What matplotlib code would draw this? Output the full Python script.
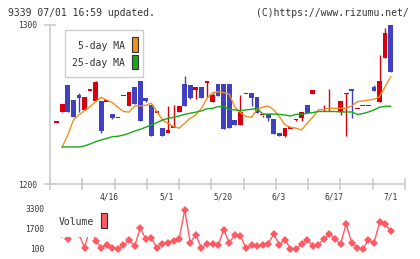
import numpy as np
import matplotlib
matplotlib.use("Agg")
import matplotlib.pyplot as plt
from matplotlib import transforms
from matplotlib.patches import Rectangle

# ---------------- data ----------------
opens = [1239, 1245, 1262, 1253, 1256, 1246.5, 1259, 1252.4, 1252, 1252.2,
         1244, 1241.9, 1255.8, 1249.3, 1261, 1264.8, 1254.1, 1249.7, 1245.3, 1235.4,
         1232.3, 1235.8, 1245, 1262.9, 1262.3, 1259.3, 1261, 1264.2, 1251.8, 1263,
         1262.9, 1262.9, 1240.3, 1237.3, 1257, 1257, 1254.5, 1243.6, 1243.8, 1240.9,
         1231.9, 1230.4, 1235.2, 1240.7, 1241.7, 1249.7, 1256.8, 1245.5, 1245.7, 1245.7,
         1245.7, 1245.5, 1257, 1259.6, 1247.6, 1249.5, 1249.5, 1261, 1251.8, 1279.4,
         1300]
closes = [1239, 1250, 1245.5, 1242, 1254, 1254.5, 1259, 1264.4, 1233.5, 1252.2,
          1241.7, 1241.9, 1255.8, 1257.9, 1250.5, 1239.8, 1252.4, 1230.4, 1245.3, 1230.4,
          1234, 1235.8, 1249, 1249.2, 1254.3, 1261, 1254.3, 1264.2, 1256, 1255.5,
          1234.8, 1235.4, 1237.3, 1245.5, 1257, 1254.3, 1244.9, 1243.6, 1241.7, 1231.6,
          1230.4, 1235.2, 1235.2, 1240.7, 1245.3, 1244.9, 1259.1, 1245.5, 1245.7, 1245.7,
          1245.7, 1252.2, 1257, 1258.7, 1247.6, 1249.5, 1249.5, 1258.7, 1264.8, 1295,
          1270.6]
highs = [1239, 1250, 1262, 1253, 1257.2, 1254.5, 1259.8, 1265, 1252, 1252.2,
         1244, 1241.9, 1255.8, 1257.9, 1261, 1264.8, 1254.1, 1249.7, 1245.3, 1235.4,
         1249.1, 1249.7, 1249, 1268, 1262.3, 1261, 1261, 1264.2, 1257.2, 1263,
         1262.9, 1262.9, 1240.3, 1256, 1257, 1257, 1254.5, 1243.6, 1243.8, 1240.9,
         1231.9, 1235.2, 1235.2, 1240.7, 1245.3, 1249.7, 1259.1, 1245.5, 1249.7, 1259.7,
         1245.7, 1252.2, 1257, 1259.6, 1247.6, 1249.5, 1249.5, 1262.3, 1281, 1298,
         1300]
lows = [1239, 1245, 1245.5, 1242, 1245.5, 1246.5, 1258.5, 1252.4, 1232, 1252.2,
        1240.7, 1241.9, 1255.8, 1249.3, 1250.5, 1239.8, 1251.6, 1230.4, 1245.3, 1230.4,
        1232.3, 1235.8, 1245, 1249.2, 1253.5, 1253.5, 1254.3, 1254.5, 1251.8, 1255.5,
        1234.8, 1235.4, 1237.3, 1237.3, 1257, 1249.1, 1244.9, 1242, 1239.8, 1231.6,
        1230.4, 1229.8, 1235.2, 1239.8, 1239.8, 1244.9, 1256.8, 1245.5, 1245.7, 1245.7,
        1245.7, 1243.4, 1230.4, 1241.7, 1247.6, 1249.5, 1249.5, 1258.7, 1251.8, 1279.4,
        1270.6]
ma5 = [np.nan, 1223.3, 1230.8, 1240.3, 1243.4, 1246.1, 1248.7, 1251.8, 1254.5, 1252.8,
       1251.2, 1248.3, 1245.6, 1245.2, 1249.1, 1249.1, 1249.5, 1250.8, 1245.6, 1240.3,
       1238.2, 1236.1, 1235.1, 1238.2, 1241.4, 1243.4, 1247.6, 1253.9, 1257.4, 1258,
       1257.4, 1256.6, 1248.3, 1244.9, 1242.4, 1242, 1247, 1248.3, 1249.1, 1246.6,
       1242.4, 1237.2, 1235.7, 1235.1, 1234, 1238.2, 1242, 1246.6, 1247, 1247.6,
       1247.6, 1247.6, 1247.6, 1249.1, 1251.8, 1252.2, 1252.8, 1253.3, 1254.9, 1261.2,
       1267.5]
ma25 = [np.nan, 1223.3, 1223.3, 1223.3, 1223.3, 1223.9, 1225.2, 1226.6, 1227.7, 1228.7,
        1229.8, 1230, 1230.8, 1231.9, 1233.3, 1234.4, 1235.7, 1237.2, 1238.6, 1240.3,
        1241.2, 1242, 1242.8, 1243.8, 1244.5, 1245.2, 1246, 1247.3, 1247.6, 1248.7,
        1248.7, 1247, 1246.6, 1246.1, 1246.6, 1247, 1247.6, 1244, 1244, 1244,
        1243.8, 1243.4, 1242.8, 1243.8, 1243.8, 1244.5, 1244.9, 1245.6, 1245.6, 1245.6,
        1245.6, 1245.3, 1245.3, 1245.3, 1243.8, 1244.3, 1245.3, 1246.6, 1248.3, 1248.9,
        1248.9]
volumes = [1500, 1300, 900, 1700, 1300, 180, 1800, 764, 180, 420,
           180, 100, 364, 844, 284, 1780, 900, 980, 150, 500,
           580, 764, 900, 3250, 580, 1244, 150, 500, 500, 364,
           1644, 580, 1220, 1164, 150, 420, 308, 420, 500, 1300,
           420, 844, 100, 80, 500, 844, 308, 420, 900, 1300,
           900, 500, 2100, 580, 180, 60, 820, 580, 2230, 2100,
           1564]
date_labels = ["4/16", "5/1", "5/20", "6/3", "6/17", "7/1"]
date_label_pos = [9.4, 19.8, 29.9, 39.9, 49.9, 59.9]
price_ticks = [1200, 1300]
volume_ticks = [100, 1700, 3300]

# ---------------- style ----------------
RED = "#d8000c"
BLUE = "#4040c0"
ORANGE = "#f0901e"
GREEN = "#18a818"
VOLC = "#ff5a64"
GRID = "#cccccc"
TXT = "#333333"
MONO = "DejaVu Sans Mono"

W, H = 420, 259
fig = plt.figure(figsize=(W / 100, H / 100), dpi=100)
fig.patch.set_facecolor("white")


def px_rect(l, t, r, b):
    return [l / W, 1 - b / H, (r - l) / W, (b - t) / H]


n = len(opens)
idx = np.arange(n)
xmin, xmax = -1.2, 62.57

ax = fig.add_axes(px_rect(50, 25, 405, 184))
ax.set_xlim(xmin, xmax)
ax.set_ylim(1200, 1300)

o = np.array(opens); c = np.array(closes)
hi = np.array(highs); lo = np.array(lows)
up = c >= o
cols = [RED if u else BLUE for u in up]
bottom = np.minimum(o, c)
height = np.abs(c - o)
mind = 0.95
small = height < mind
bottom = np.where(small, (o + c) / 2 - mind / 2, bottom)
height = np.where(small, mind, height)

ax.vlines(idx, lo, hi, colors=cols, linewidth=1.0, zorder=2)
ax.bar(idx, height, bottom=bottom, width=0.85, color=cols, linewidth=0, zorder=3)
ax.plot(idx, ma5, color=ORANGE, lw=1.0, zorder=4)
ax.plot(idx, ma25, color=GREEN, lw=1.0, zorder=4)

for s in ["top", "right"]:
    ax.spines[s].set_visible(False)
for s in ["left", "bottom"]:
    ax.spines[s].set_color(GRID)
    ax.spines[s].set_linewidth(1.2)
ax.set_xticks(np.linspace(xmin, xmax, 12))
ax.set_xticklabels([])
ax.set_yticks(price_ticks)
ax.set_yticklabels([str(v) for v in price_ticks], fontsize=5.7, family=MONO, color=TXT)
ax.tick_params(axis="both", direction="inout", length=8, width=1.2, color=GRID)
ax.tick_params(axis="y", pad=5)
ax.set_facecolor("none")

tr = transforms.blended_transform_factory(ax.transData, ax.transAxes)
for lab, pos in zip(date_labels, date_label_pos):
    ax.text(pos, (184 - 197.3) / 159, lab, transform=tr, ha="center", va="center",
            fontsize=5.7, family=MONO, color=TXT)

# volume panel
vax = fig.add_axes(px_rect(50, 205, 405, 255))
vax.set_xlim(xmin, xmax)
vax.set_ylim(-412, 3649)
vax.axis("off")
vax.plot(idx, volumes, color=VOLC, lw=1.0, marker="D", markersize=3.6,
         markeredgewidth=0, clip_on=False)

# overlay in pixel coordinates
ov = fig.add_axes([0, 0, 1, 1])
ov.set_xlim(0, W)
ov.set_ylim(H, 0)
ov.axis("off")

ov.text(8.3, 12.7, "9339 07/01 16:59 updated.", fontsize=7, family=MONO, color=TXT,
        ha="left", va="center")
ov.text(409, 12.7, "(C)https://www.rizumu.net/", fontsize=7, family=MONO, color=TXT,
        ha="right", va="center")

# price legend
ov.add_patch(Rectangle((65, 30), 78.3, 47.3, facecolor="white", edgecolor=GRID, lw=1.0, zorder=5))
ov.text(125, 46, "5-day MA", fontsize=7, family=MONO, color=TXT, ha="right", va="center", zorder=6)
ov.text(125, 63.3, "25-day MA", fontsize=7, family=MONO, color=TXT, ha="right", va="center", zorder=6)
ov.add_patch(Rectangle((131.7, 37.3), 6, 15, facecolor=ORANGE, edgecolor=TXT, lw=0.8, zorder=6))
ov.add_patch(Rectangle((131.7, 54.7), 6, 14.3, facecolor=GREEN, edgecolor=TXT, lw=0.8, zorder=6))

# volume legend
ov.add_patch(Rectangle((47, 206), 65, 31.3, facecolor="white", edgecolor="none", zorder=5))
ov.text(59, 222.3, "Volume", fontsize=7, family=MONO, color=TXT, ha="left", va="center", zorder=6)
ov.add_patch(Rectangle((101, 212.7), 6.3, 15.6, facecolor=VOLC, edgecolor=TXT, lw=0.8, zorder=6))

# volume axis labels
for v, y in zip(volume_ticks, [249.0, 229.3, 209.3]):
    ov.text(44, y, str(v), fontsize=5.7, family=MONO, color=TXT, ha="right", va="center",
            zorder=7)

fig.savefig("out.png", dpi=100, facecolor="white")
